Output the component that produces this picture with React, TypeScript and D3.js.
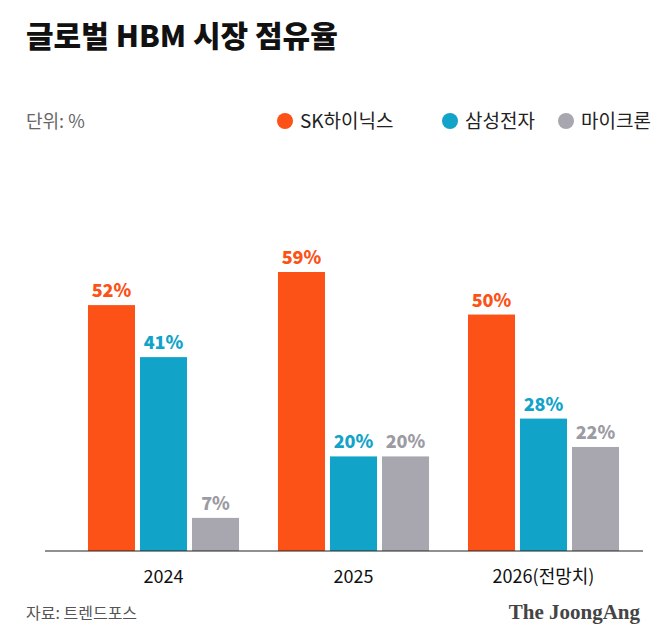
import React from 'react';
import * as d3 from 'd3';

const years = ['2024', '2025', '2026(전망치)'];
const companies = ['SK하이닉스', '삼성전자', '마이크론'];
const sk = [52, 59, 50];
const samsung = [41, 20, 28];
const micron = [7, 20, 22];

const colors = ['#FC5117', '#12A3C8', '#A8A7AF'];
const labelColors = ['#FC5117', '#12A3C8', '#9C9BA3'];

const App: React.FC = () => {
  const width = 669;
  const height = 642;
  const baseY = 551;
  const font = '"Noto Sans CJK KR", "Noto Sans", sans-serif';

  const x = d3.scaleBand<string>().domain(years).range([68.5, 638.5]).paddingInner(0.205).paddingOuter(0.1025);
  const sub = d3.scaleBand<string>().domain(companies).range([0, x.bandwidth()]).paddingInner(0.096).paddingOuter(0);
  const y = d3.scaleLinear().domain([0, 59]).range([baseY, 272]);
  const series = [sk, samsung, micron];

  return (
    <svg width={width} height={height} style={{ position: 'absolute', left: 0, top: 0, background: '#fff' }} fontFamily={font}>
      <text x={26} y={47} fontSize={30} fontWeight={900} fill="#111">글로벌 HBM 시장 점유율</text>
      <text x={26} y={128} fontSize={18} fill="#666">단위: %</text>
      {companies.map((c, i) => {
        const lx = [285, 450, 566][i];
        return (
          <g key={c}>
            <circle cx={lx} cy={121} r={8} fill={colors[i]} />
            <text x={lx + 15} y={128} fontSize={19} fill="#222">{c}</text>
          </g>
        );
      })}
      {years.map((yr, gi) => (
        <g key={yr} transform={`translate(${x(yr)},0)`}>
          {companies.map((c, si) => {
            const v = series[si][gi];
            const bx = sub(c)!;
            return (
              <g key={c}>
                <rect x={bx} y={y(v)} width={sub.bandwidth()} height={baseY - y(v)} fill={colors[si]} />
                <text x={bx + sub.bandwidth() / 2} y={y(v) - 8} textAnchor="middle" fontSize={18} fontWeight={800} fill={labelColors[si]}>{v}%</text>
              </g>
            );
          })}
          <text x={x.bandwidth() / 2} y={583} textAnchor="middle" fontSize={18} fill="#111">{yr}</text>
        </g>
      ))}
      <line x1={45} x2={643} y1={baseY} y2={baseY} stroke="#222" strokeWidth={1.2} />
      <text x={26} y={619} fontSize={16} fill="#555">자료: 트렌드포스</text>
      <text x={640} y={619} textAnchor="end" fontSize={21} fontWeight={700} fill="#444" fontFamily='"Liberation Serif", serif'>The JoongAng</text>
    </svg>
  );
};

export default App;
